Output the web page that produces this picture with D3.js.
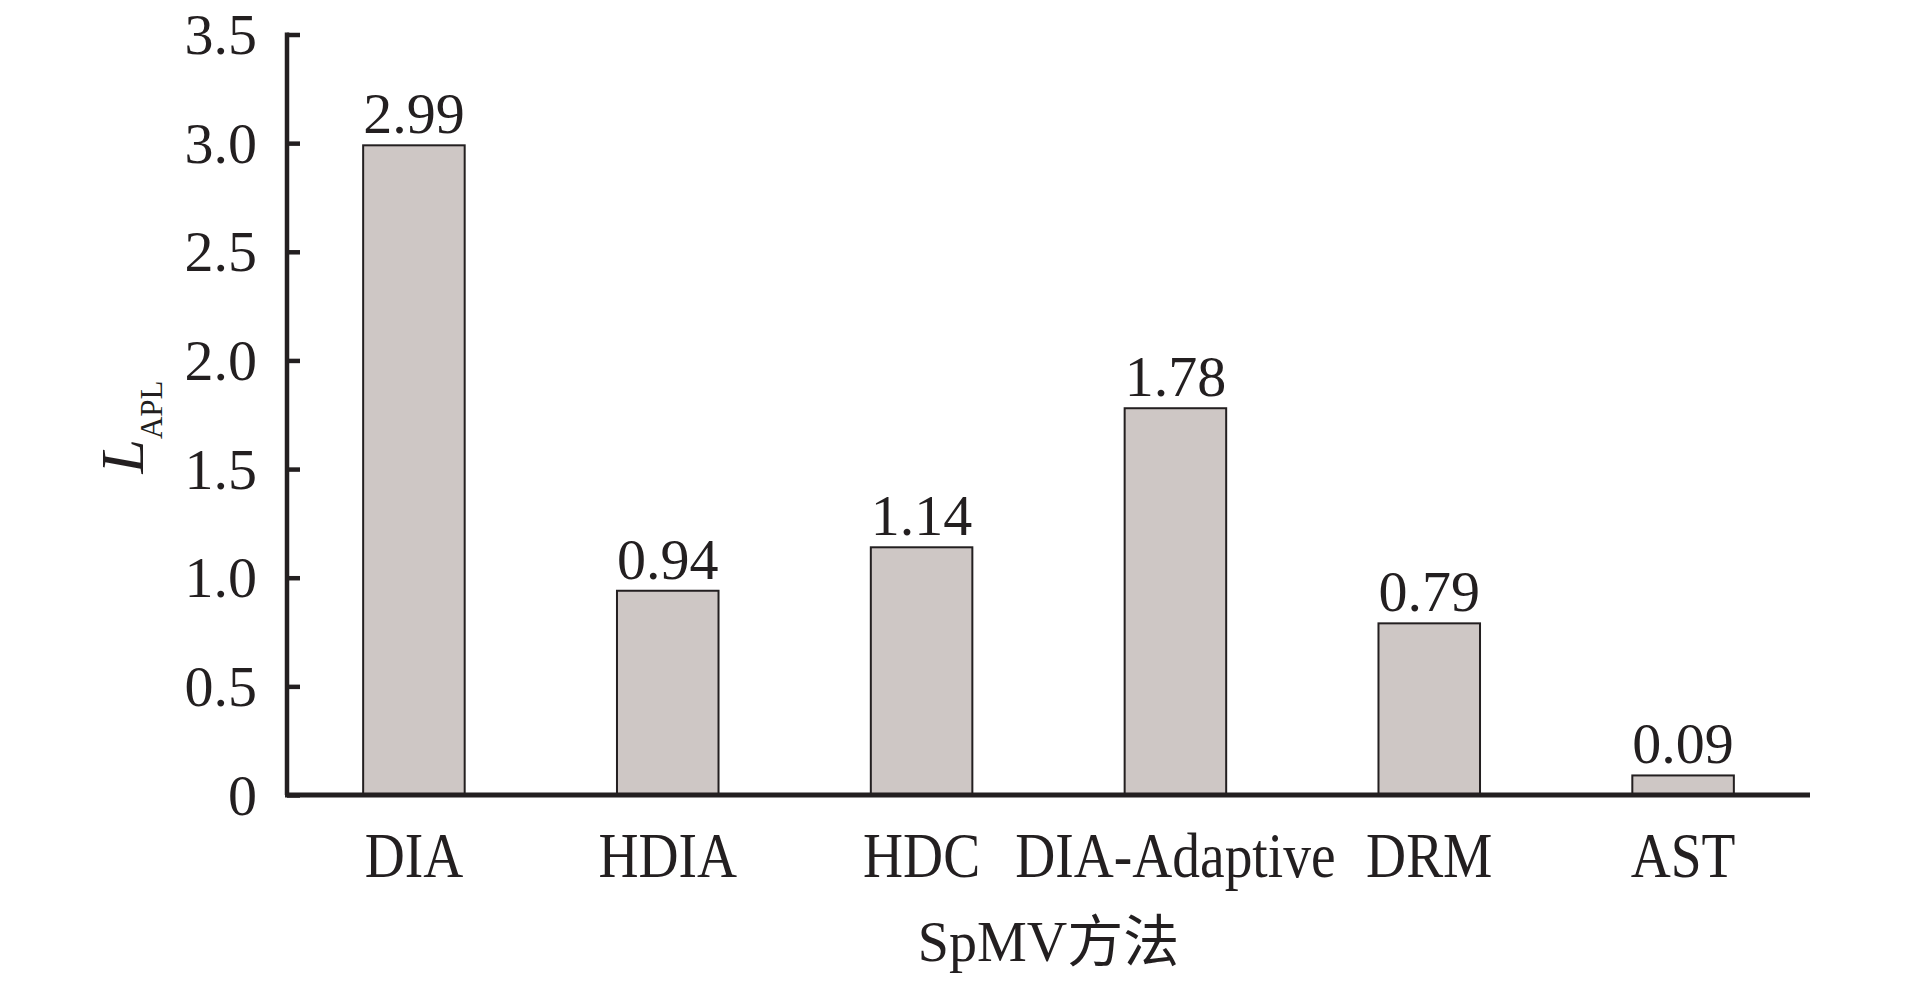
<!DOCTYPE html>
<html>
<head>
<meta charset="utf-8">
<script src="https://cdn.jsdelivr.net/npm/d3@7"></script>
<style>
  html, body { margin: 0; padding: 0; background: #ffffff; }
  svg { display: block; }
</style>
</head>
<body>
<svg id="chart" width="1913" height="992"></svg>
<script>
// ---- data ----
const categories = ["DIA", "HDIA", "HDC", "DIA-Adaptive", "DRM", "AST"];
const values = [2.99, 0.94, 1.14, 1.78, 0.79, 0.09];
const valueLabels = ["2.99", "0.94", "1.14", "1.78", "0.79", "0.09"];
const yTicks = [0, 0.5, 1.0, 1.5, 2.0, 2.5, 3.0, 3.5];
const yTickLabels = ["0", "0.5", "1.0", "1.5", "2.0", "2.5", "3.0", "3.5"];
const xTitle = "SpMV方法";
const yTitleMain = "L";
const yTitleSub = "APL";

// ---- layout ----
const ink = "#231f20";
const barFill = "#cec7c5";
const plotLeft = 287, plotRight = 1810, plotTop = 34.5, plotBottom = 795;

const svg = d3.select("#chart");

const x = d3.scaleBand()
  .domain(categories)
  .range([plotLeft, plotRight])
  .paddingInner(0.6)
  .paddingOuter(0.3);

const y = d3.scaleLinear()
  .domain([0, 3.5])
  .range([plotBottom, plotTop]);

// bars
svg.append("g")
  .selectAll("rect")
  .data(values)
  .join("rect")
  .attr("x", (d, i) => x(categories[i]))
  .attr("y", d => y(d))
  .attr("width", x.bandwidth())
  .attr("height", d => y(0) - y(d))
  .attr("fill", barFill)
  .attr("stroke", ink)
  .attr("stroke-width", 2);

// value labels
svg.append("g")
  .selectAll("text")
  .data(values)
  .join("text")
  .attr("x", (d, i) => x(categories[i]) + x.bandwidth() / 2)
  .attr("y", d => y(d) - 12)
  .attr("text-anchor", "middle")
  .attr("font-family", "'Liberation Serif', serif")
  .attr("font-size", 58)
  .attr("fill", ink)
  .text((d, i) => valueLabels[i]);

// y axis
const yAxis = d3.axisLeft(y)
  .tickValues(yTicks)
  .tickFormat((d, i) => yTickLabels[i])
  .tickSizeInner(-13)
  .tickSizeOuter(0)
  .tickPadding(30);

const gy = svg.append("g")
  .attr("transform", `translate(${plotLeft},0)`)
  .call(yAxis);
gy.select(".domain").attr("stroke", ink).attr("stroke-width", 4.5)
  .attr("d", `M0,${plotTop - 2}V${plotBottom}`);
gy.selectAll(".tick line").attr("stroke", ink).attr("stroke-width", 4.5);
gy.selectAll(".tick text")
  .attr("font-family", "'Liberation Serif', serif")
  .attr("font-size", 58)
  .attr("fill", ink)
  .attr("dy", "0.33em");

// x axis
const xAxis = d3.axisBottom(x).tickSize(0).tickPadding(0);
const gx = svg.append("g")
  .attr("transform", `translate(0,${plotBottom})`)
  .call(xAxis);
gx.select(".domain").attr("stroke", ink).attr("stroke-width", 5)
  .attr("d", `M${plotLeft - 2},0H${plotRight}`);
gx.selectAll(".tick text")
  .attr("font-family", "'Liberation Serif', serif")
  .attr("font-size", 63)
  .attr("fill", ink)
  .attr("y", 82)
  .attr("dy", "0")
  .attr("transform", "scale(0.88,1)");

// x title
svg.append("text")
  .attr("x", (plotLeft + plotRight) / 2)
  .attr("y", 961)
  .attr("text-anchor", "middle")
  .attr("font-family", "'Liberation Serif', 'Noto Sans CJK SC', serif")
  .attr("font-size", 56)
  .attr("fill", ink)
  .text(xTitle);

// y title
const yt = svg.append("text")
  .attr("transform", "translate(143,427) rotate(-90)")
  .attr("text-anchor", "middle")
  .attr("font-family", "'Liberation Serif', serif")
  .attr("fill", ink);
yt.append("tspan")
  .attr("font-style", "italic")
  .attr("font-size", 62)
  .text(yTitleMain);
yt.append("tspan")
  .attr("font-size", 31)
  .attr("dy", 19)
  .text(yTitleSub);
</script>
</body>
</html>
